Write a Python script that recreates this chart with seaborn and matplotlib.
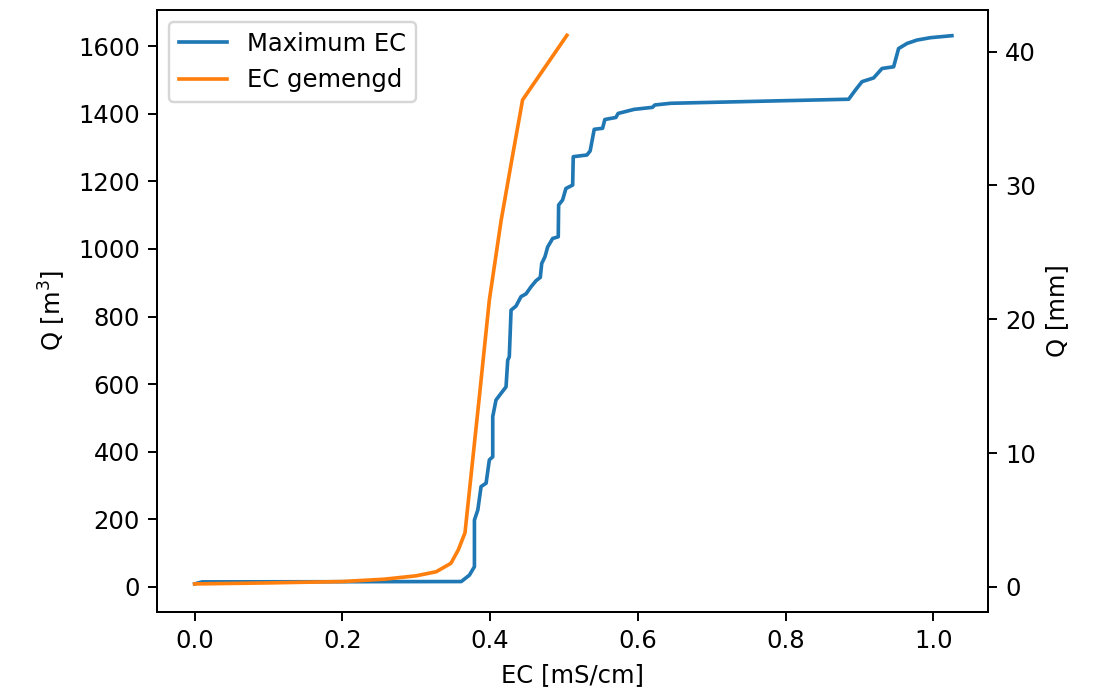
import matplotlib
matplotlib.use("Agg")
import matplotlib.pyplot as plt
import seaborn as sns
import pandas as pd

# Maximum EC curve
ec_max = [0.0, 0.01, 0.361, 0.372, 0.3788, 0.3788, 0.3834, 0.3878, 0.3946, 0.399, 0.4036, 0.4036,
          0.408, 0.4149, 0.4216, 0.4239, 0.426, 0.4284, 0.4351, 0.4419, 0.4486, 0.4554,
          0.4622, 0.468, 0.4699, 0.4743, 0.478, 0.4847, 0.4923, 0.4928, 0.4982, 0.5027,
          0.5118, 0.5126, 0.5311, 0.5355, 0.541, 0.5523, 0.5554, 0.5703, 0.5734, 0.595,
          0.6199, 0.623, 0.6446, 0.8855, 0.8946, 0.9036, 0.9193, 0.9307, 0.9464, 0.9531,
          0.9645, 0.978, 0.9959, 1.0253]
q_max = [9, 15, 16, 35, 60, 198, 228, 297, 307, 376, 385, 504,
         553, 573, 592, 671, 681, 819, 831, 859, 867, 888,
         906, 916, 957, 977, 1006, 1031, 1036, 1130, 1145, 1179,
         1189, 1273, 1278, 1290, 1354, 1357, 1383, 1389, 1401, 1413,
         1419, 1426, 1431, 1443, 1470, 1495, 1506, 1534, 1539, 1593,
         1608, 1618, 1625, 1631]

# EC gemengd curve
ec_mix = [0.0, 0.10, 0.20, 0.257, 0.30, 0.327, 0.347, 0.357, 0.366, 0.385, 0.399, 0.415,
          0.431, 0.444, 0.504]
q_mix = [9, 12, 16, 23, 33, 45, 70, 110, 160, 553, 849, 1085,
         1283, 1441, 1632]

area_factor = 39.6  # m3 per mm

df = pd.concat([
    pd.DataFrame({"EC": ec_max, "Q": q_max, "serie": "Maximum EC"}),
    pd.DataFrame({"EC": ec_mix, "Q": q_mix, "serie": "EC gemengd"}),
], ignore_index=True)

plt.rcParams["font.family"] = ["DejaVu Sans"]
plt.rcParams["font.size"] = 10

fig = plt.figure(figsize=(1094 / 175, 694 / 175), dpi=175)
ax = fig.add_axes([0.1435, 0.1182, 0.903 - 0.1435, 0.9856 - 0.1182])

sns.lineplot(data=df, x="EC", y="Q", hue="serie", sort=False, estimator=None,
             palette=["#1f77b4", "#ff7f0e"], linewidth=1.5, ax=ax)
ax.set_xlabel("EC [mS/cm]")
ax.set_ylabel("Q [m$^3$]")
ax.set_xlim(-0.051, 1.074)
ylo, yhi = -74, 1707
ax.set_ylim(ylo, yhi)
ax.set_yticks([0, 200, 400, 600, 800, 1000, 1200, 1400, 1600])
ax.set_xticks([0.0, 0.2, 0.4, 0.6, 0.8, 1.0])
ax.legend(loc="upper left", title=None)

ax2 = ax.twinx()
ax2.set_ylim(ylo / area_factor, yhi / area_factor)
ax2.set_yticks([0, 10, 20, 30, 40])
ax2.set_ylabel("Q [mm]")

fig.savefig("out.png", dpi=175)
